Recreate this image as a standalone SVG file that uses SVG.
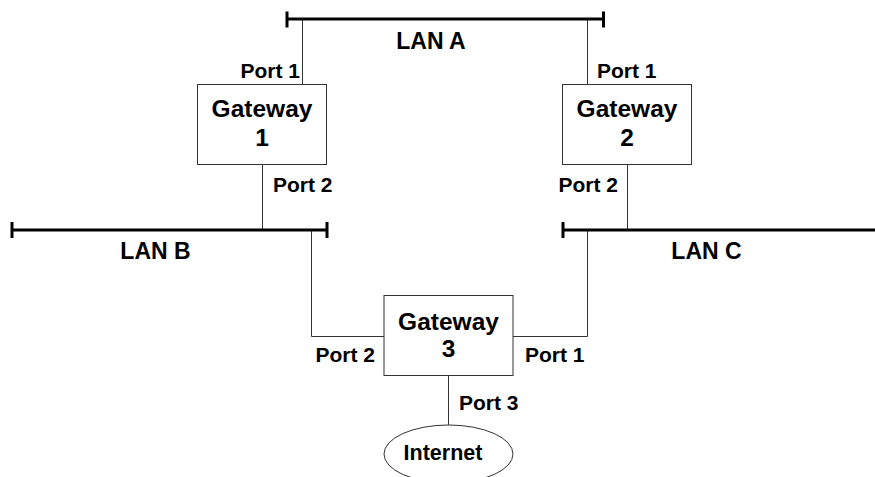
<svg xmlns="http://www.w3.org/2000/svg" width="875" height="477" viewBox="0 0 875 477">
<style>
.lan{stroke:#000;stroke-width:3;fill:none}
.wire{stroke:#333;stroke-width:1;fill:none}
.box{fill:#fff;stroke:#333;stroke-width:1}
text{font-family:"Liberation Sans",Arial,sans-serif;font-weight:bold;fill:#000}
.port{font-size:21px}
.gw{font-size:24.5px;text-anchor:middle}
.lanl{font-size:23px;text-anchor:middle}
</style>
<rect width="875" height="477" fill="#fff"/>
<g id="connectors">
<line class="wire" x1="302.5" y1="19" x2="302.5" y2="85"/>
<line class="wire" x1="587.5" y1="19" x2="587.5" y2="85"/>
<line class="wire" x1="262.5" y1="164" x2="262.5" y2="230"/>
<line class="wire" x1="627.5" y1="164" x2="627.5" y2="230"/>
<polyline class="wire" points="311.5,230 311.5,336.5 384,336.5"/>
<polyline class="wire" points="587.5,230 587.5,336.5 513,336.5"/>
<line class="wire" x1="448.5" y1="376" x2="448.5" y2="425"/>
</g>
<g id="lanA">
<line class="lan" x1="286" y1="19" x2="604" y2="19"/>
<line class="lan" x1="287" y1="11.5" x2="287" y2="27.5"/>
<line class="lan" x1="603.5" y1="11.5" x2="603.5" y2="27.5"/>
<text class="lanl" x="431" y="49">LAN A</text>
</g>
<g id="lanB">
<line class="lan" x1="11" y1="230" x2="328" y2="230"/>
<line class="lan" x1="12" y1="222" x2="12" y2="238"/>
<line class="lan" x1="327" y1="222" x2="327" y2="238"/>
<text class="lanl" x="155.5" y="259">LAN B</text>
</g>
<g id="lanC">
<line class="lan" x1="562" y1="230" x2="875" y2="230"/>
<line class="lan" x1="563" y1="222" x2="563" y2="238"/>
<text class="lanl" x="706.5" y="259">LAN C</text>
</g>
<g id="gateway1">
<rect class="box" x="197.5" y="84.5" width="129" height="80"/>
<text class="gw" x="262" y="117">Gateway</text>
<text class="gw" x="262" y="146">1</text>
<text class="port" x="300" y="78" text-anchor="end">Port 1</text>
<text class="port" x="273" y="192">Port 2</text>
</g>
<g id="gateway2">
<rect class="box" x="562.5" y="84.5" width="129" height="80"/>
<text class="gw" x="627" y="117">Gateway</text>
<text class="gw" x="627" y="146">2</text>
<text class="port" x="597" y="78">Port 1</text>
<text class="port" x="618" y="192" text-anchor="end">Port 2</text>
</g>
<g id="gateway3">
<rect class="box" x="384" y="295.5" width="129" height="80"/>
<text class="gw" x="448.5" y="330">Gateway</text>
<text class="gw" x="448.5" y="357">3</text>
<text class="port" x="375" y="362" text-anchor="end">Port 2</text>
<text class="port" x="525" y="362">Port 1</text>
<text class="port" x="459" y="410">Port 3</text>
</g>
<g id="internet">
<ellipse class="box" cx="448.5" cy="454" rx="64.5" ry="29"/>
<text class="gw" x="443" y="460" style="font-size:21.5px">Internet</text>
</g>
</svg>
